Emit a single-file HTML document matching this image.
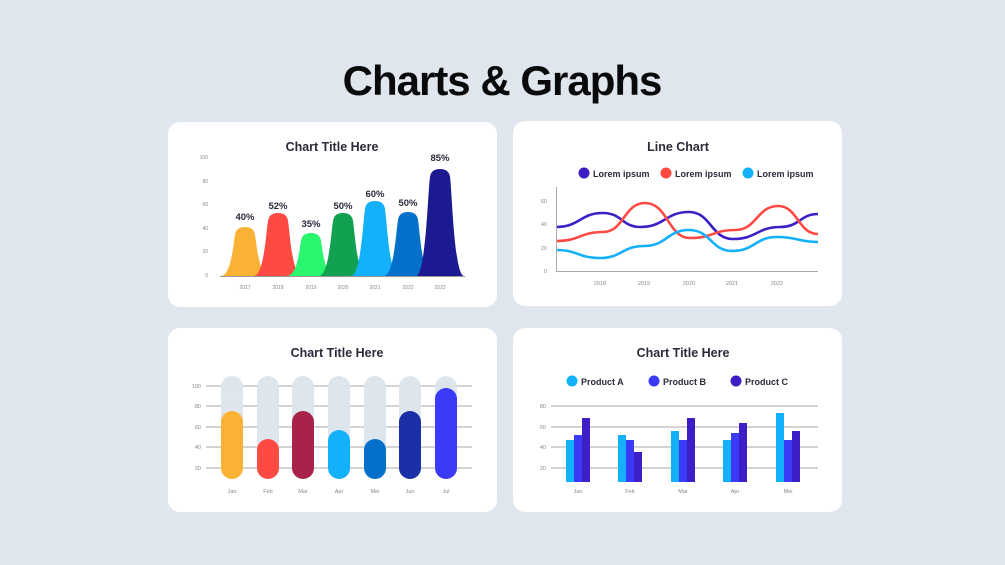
<!DOCTYPE html><html><head><style>body{margin:0;background:#dfe6ee}svg{display:block}text{font-family:"Liberation Sans",sans-serif}</style></head><body>
<svg width="1005" height="565" viewBox="0 0 1005 565" xmlns="http://www.w3.org/2000/svg">
<rect width="1005" height="565" fill="#dfe6ee"/>
<text x="502" y="95" text-anchor="middle" font-size="42" font-weight="bold" fill="#0a0a0a" letter-spacing="-1">Charts &amp; Graphs</text>
<g fill="#fff"><rect x="168" y="122" width="329" height="185" rx="12"/><rect x="513" y="121" width="329" height="185" rx="12"/><rect x="168" y="328" width="329" height="184" rx="12"/><rect x="513" y="328" width="329" height="184" rx="12"/></g>
<g font-size="12.5" font-weight="bold" fill="#2a2a3a" text-anchor="middle"><text x="332" y="151">Chart Title Here</text><text x="678" y="151">Line Chart</text><text x="337" y="357">Chart Title Here</text><text x="683" y="357">Chart Title Here</text></g>
<!-- chart 1 -->
<g font-size="5" fill="#888" text-anchor="end"><text x="208" y="159">100</text><text x="208" y="183">80</text><text x="208" y="206">60</text><text x="208" y="230">40</text><text x="208" y="253">20</text><text x="208" y="277">0</text></g>
<g font-size="5" fill="#888" text-anchor="middle"><text x="245" y="289">2017</text><text x="278" y="289">2018</text><text x="311" y="289">2019</text><text x="343" y="289">2020</text><text x="375" y="289">2021</text><text x="408" y="289">2022</text><text x="440" y="289">2023</text></g>
<g>
<path d="M221 276C231 275 233 247 235 235Q236 227 245 227Q254 227 255 235C257 247 259 275 269 276Z" fill="#f9b233"/>
<path d="M254 276C264 275 266 233 268 221Q269 213 278 213Q287 213 288 221C290 233 292 275 302 276Z" fill="#ff4a44"/>
<path d="M287 276C297 275 299 253 301 241Q302 233 311 233Q320 233 321 241C323 253 325 275 335 276Z" fill="#2af56f"/>
<path d="M319 276C329 275 331 233 333 221Q334 213 343 213Q352 213 353 221C355 233 357 275 367 276Z" fill="#12a150"/>
<path d="M351 276C361 275 363 221 365 209Q366 201 375 201Q384 201 385 209C387 221 389 275 399 276Z" fill="#13b1fa"/>
<path d="M384 276C394 275 396 232 398 220Q399 212 408 212Q417 212 418 220C420 232 422 275 432 276Z" fill="#0470c9"/>
<path d="M416 276C426 275 428 189 430 177Q431 169 440 169Q449 169 450 177C452 189 454 275 464 276Z" fill="#1b1a91"/>
</g>
<line x1="220" y1="276.5" x2="465" y2="276.5" stroke="#999" stroke-width="1"/>
<g font-size="9.5" font-weight="bold" fill="#2a2a3a" text-anchor="middle"><text x="245" y="220">40%</text><text x="278" y="209">52%</text><text x="311" y="227">35%</text><text x="343" y="209">50%</text><text x="375" y="197">60%</text><text x="408" y="206">50%</text><text x="440" y="161">85%</text></g>
<!-- chart 2 -->
<g font-size="9" font-weight="bold" fill="#2a2a3a"><circle cx="584" cy="173" r="5.5" fill="#3d1fc5"/><text x="593" y="177">Lorem ipsum</text><circle cx="666" cy="173" r="5.5" fill="#ff4a44"/><text x="675" y="177">Lorem ipsum</text><circle cx="748" cy="173" r="5.5" fill="#13b1fa"/><text x="757" y="177">Lorem ipsum</text></g>
<g font-size="5.5" fill="#888" text-anchor="end"><text x="547" y="203">60</text><text x="547" y="226">40</text><text x="547" y="250">20</text><text x="547" y="273">0</text></g>
<g font-size="5.5" fill="#888" text-anchor="middle"><text x="600" y="285">2018</text><text x="644" y="285">2019</text><text x="689" y="285">2020</text><text x="732" y="285">2021</text><text x="777" y="285">2022</text></g>
<g fill="none" stroke-width="2.6">
<path d="M556 227C580 227 580 213 603 213C622 213 622 227 640 227C665 227 665 212 689 212C711 212 711 239 733 239C757 239 757 227 780 227C800 227 800 214 818 214" stroke="#3d1fc5"/>
<path d="M556 241C580 241 580 232 603 232C624 232 624 203 645 203C668 203 668 238 690 238C713 238 713 230 735 230C757 230 757 206 778 206C798 206 798 234 818 234" stroke="#ff4a44"/>
<path d="M556 250C578 250 578 258 600 258C622 258 622 246 644 246C667 246 667 230 689 230C711 230 711 251 732 251C755 251 755 237 777 237C798 237 798 242 818 242" stroke="#13b1fa"/>
</g>
<path d="M556.5 187V271.5H818" fill="none" stroke="#aaa" stroke-width="1"/>
<!-- chart 3 -->
<g stroke="#aaa" stroke-width="1"><line x1="206" y1="386" x2="472" y2="386"/><line x1="206" y1="406" x2="472" y2="406"/><line x1="206" y1="427" x2="472" y2="427"/><line x1="206" y1="447" x2="472" y2="447"/><line x1="206" y1="468" x2="472" y2="468"/></g>
<g font-size="5.5" fill="#888" text-anchor="end"><text x="201" y="388">100</text><text x="201" y="408">80</text><text x="201" y="429">60</text><text x="201" y="449">40</text><text x="201" y="470">20</text></g>
<g fill="#dde5ed" opacity="0.95"><rect x="221" y="376" width="22" height="103" rx="11"/><rect x="257" y="376" width="22" height="103" rx="11"/><rect x="292" y="376" width="22" height="103" rx="11"/><rect x="328" y="376" width="22" height="103" rx="11"/><rect x="364" y="376" width="22" height="103" rx="11"/><rect x="399" y="376" width="22" height="103" rx="11"/><rect x="435" y="376" width="22" height="103" rx="11"/></g>
<rect x="221" y="411" width="22" height="68" rx="11" fill="#f9b233"/><rect x="257" y="439" width="22" height="40" rx="11" fill="#ff4a44"/><rect x="292" y="411" width="22" height="68" rx="11" fill="#a8224a"/><rect x="328" y="430" width="22" height="49" rx="11" fill="#13b1fa"/><rect x="364" y="439" width="22" height="40" rx="11" fill="#0470c9"/><rect x="399" y="411" width="22" height="68" rx="11" fill="#1b2fa6"/><rect x="435" y="388" width="22" height="91" rx="11" fill="#3a3af7"/>
<g font-size="5.5" fill="#888" text-anchor="middle"><text x="232" y="493">Jan</text><text x="268" y="493">Feb</text><text x="303" y="493">Mar</text><text x="339" y="493">Apr</text><text x="375" y="493">Mei</text><text x="410" y="493">Jun</text><text x="446" y="493">Jul</text></g>
<!-- chart 4 -->
<g font-size="9" font-weight="bold" fill="#2a2a3a"><circle cx="572" cy="381" r="5.5" fill="#13b1fa"/><text x="581" y="385">Product A</text><circle cx="654" cy="381" r="5.5" fill="#3a3af7"/><text x="663" y="385">Product B</text><circle cx="736" cy="381" r="5.5" fill="#3d1fc5"/><text x="745" y="385">Product C</text></g>
<g stroke="#aaa" stroke-width="1"><line x1="551" y1="406" x2="818" y2="406"/><line x1="551" y1="427" x2="818" y2="427"/><line x1="551" y1="447" x2="818" y2="447"/><line x1="551" y1="468" x2="818" y2="468"/></g>
<g font-size="5.5" fill="#888" text-anchor="end"><text x="546" y="408">80</text><text x="546" y="429">60</text><text x="546" y="449">40</text><text x="546" y="470">20</text></g>
<g fill="#13b1fa"><rect x="566" y="440" width="8" height="42"/><rect x="618" y="435" width="8" height="47"/><rect x="671" y="431" width="8" height="51"/><rect x="723" y="440" width="8" height="42"/><rect x="776" y="413" width="8" height="69"/></g>
<g fill="#3a3af7"><rect x="574" y="435" width="8" height="47"/><rect x="626" y="440" width="8" height="42"/><rect x="679" y="440" width="8" height="42"/><rect x="731" y="433" width="8" height="49"/><rect x="784" y="440" width="8" height="42"/></g>
<g fill="#3d1fc5"><rect x="582" y="418" width="8" height="64"/><rect x="634" y="452" width="8" height="30"/><rect x="687" y="418" width="8" height="64"/><rect x="739" y="423" width="8" height="59"/><rect x="792" y="431" width="8" height="51"/></g>
<g font-size="5.5" fill="#888" text-anchor="middle"><text x="578" y="493">Jan</text><text x="630" y="493">Feb</text><text x="683" y="493">Mar</text><text x="735" y="493">Apr</text><text x="788" y="493">Mei</text></g>
</svg></body></html>
